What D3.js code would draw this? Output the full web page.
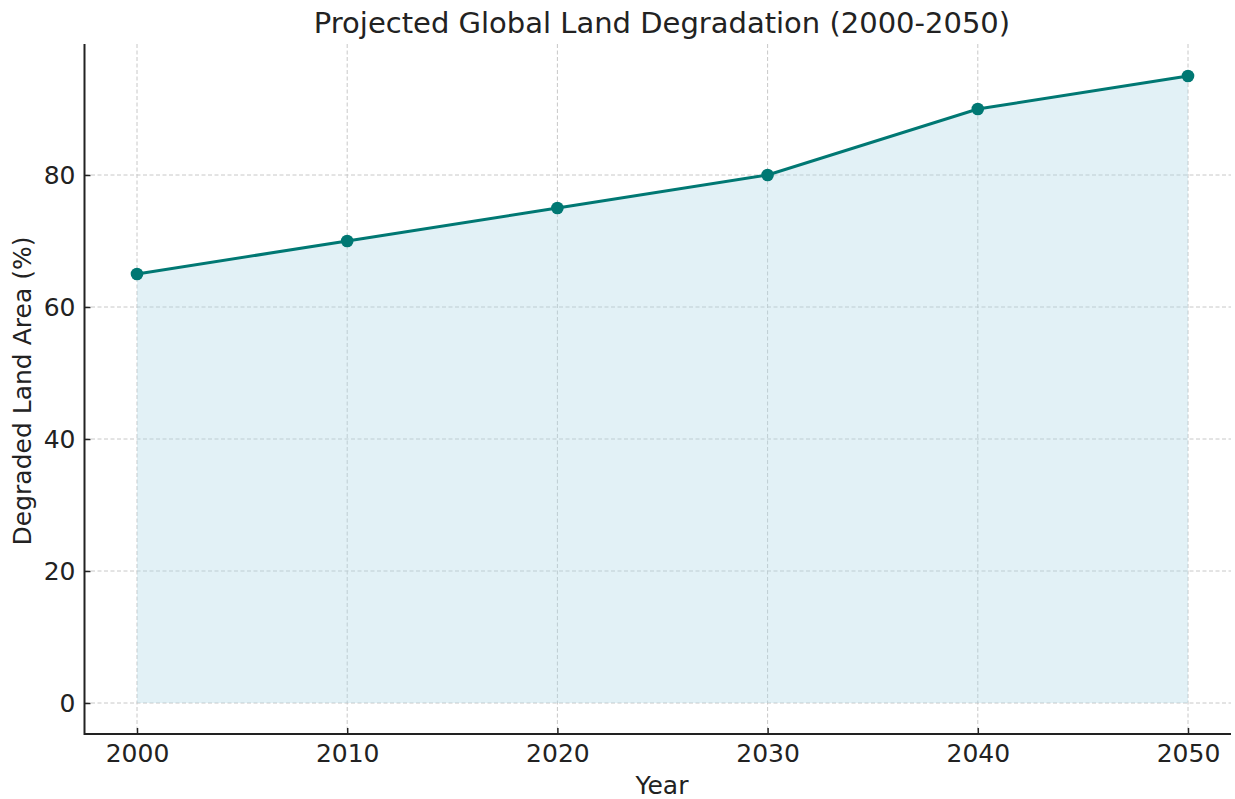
<!DOCTYPE html>
<html>
<head>
<meta charset="utf-8">
<script src="https://cdn.jsdelivr.net/npm/d3@7"></script>
<style>
  body { margin: 0; background: #fff; }
  text { font-family: "DejaVu Sans", sans-serif; fill: #222; }
</style>
</head>
<body>
<script>
var years = [2000, 2010, 2020, 2030, 2040, 2050],
    degraded = [65, 70, 75, 80, 90, 95],
    yTicks = [0, 20, 40, 60, 80];

var width = 1235,
    height = 799,
    plotLeft = 84.5,
    plotRight = 1231,
    plotTop = 44,
    plotBottom = 734,
    labelSize = 25;

var svg = d3.select("body").append("svg")
            .attr("width", width)
            .attr("height", height);

var x = d3.scaleLinear().domain([2000, 2050]).range([137, 1188]);
var y = d3.scaleLinear().domain([0, 80]).range([703, 175]);

// grid
svg.append("g").selectAll("line")
   .data(years).enter().append("line")
   .attr("x1", function(d) { return x(d); })
   .attr("x2", function(d) { return x(d); })
   .attr("y1", plotTop).attr("y2", plotBottom)
   .style("stroke", "#c8c8c8").style("stroke-width", 1)
   .style("stroke-dasharray", "4,2.5");

svg.append("g").selectAll("line")
   .data(yTicks).enter().append("line")
   .attr("y1", function(d) { return y(d); })
   .attr("y2", function(d) { return y(d); })
   .attr("x1", plotLeft).attr("x2", plotRight)
   .style("stroke", "#c8c8c8").style("stroke-width", 1)
   .style("stroke-dasharray", "4,2.5");

var pts = years.map(function(d, i) { return {year: d, value: degraded[i]}; });

var area = d3.area()
             .x(function(d) { return x(d.year); })
             .y0(y(0))
             .y1(function(d) { return y(d.value); });

svg.append("path").datum(pts)
   .attr("d", area)
   .style("fill", "rgb(173,216,230)")
   .style("fill-opacity", 0.35);

var line = d3.line()
             .x(function(d) { return x(d.year); })
             .y(function(d) { return y(d.value); });

svg.append("path").datum(pts)
   .attr("d", line)
   .style("fill", "none")
   .style("stroke", "#007873")
   .style("stroke-width", 3);

svg.append("g").selectAll("circle")
   .data(pts).enter().append("circle")
   .attr("cx", function(d) { return x(d.year); })
   .attr("cy", function(d) { return y(d.value); })
   .attr("r", 6.3)
   .style("fill", "#007873");

// axes
var xAxis = d3.axisBottom(x).tickValues(years).tickFormat(d3.format("d")).tickSize(5).tickPadding(5);
var gx = svg.append("g").attr("transform", "translate(0," + plotBottom + ")").call(xAxis);
gx.select(".domain").remove();
gx.append("line").attr("x1", plotLeft).attr("x2", plotRight)
  .style("stroke", "#222").style("stroke-width", 2);
gx.selectAll(".tick line").attr("y2", -6).style("stroke", "#222").style("stroke-width", 1.5);

var yAxis = d3.axisLeft(y).tickValues(yTicks).tickSize(5).tickPadding(4);
var gy = svg.append("g").attr("transform", "translate(" + plotLeft + ",0)").call(yAxis);
gy.select(".domain").remove();
gy.append("line").attr("y1", plotTop).attr("y2", plotBottom + 1)
  .style("stroke", "#222").style("stroke-width", 2);
gy.selectAll(".tick line").attr("x2", 6).style("stroke", "#222").style("stroke-width", 1.5);

svg.selectAll(".tick text").style("font-size", labelSize + "px").style("font-family", "DejaVu Sans").style("fill", "#222");

svg.append("text")
   .attr("x", 662).attr("y", 33)
   .attr("text-anchor", "middle")
   .style("font-size", "29px")
   .text("Projected Global Land Degradation (2000-2050)");

svg.append("text")
   .attr("x", 662).attr("y", 794)
   .attr("text-anchor", "middle")
   .style("font-size", labelSize + "px")
   .text("Year");

svg.append("text")
   .attr("transform", "translate(31,391) rotate(-90)")
   .attr("text-anchor", "middle")
   .style("font-size", labelSize + "px")
   .text("Degraded Land Area (%)");
</script>
</body>
</html>
